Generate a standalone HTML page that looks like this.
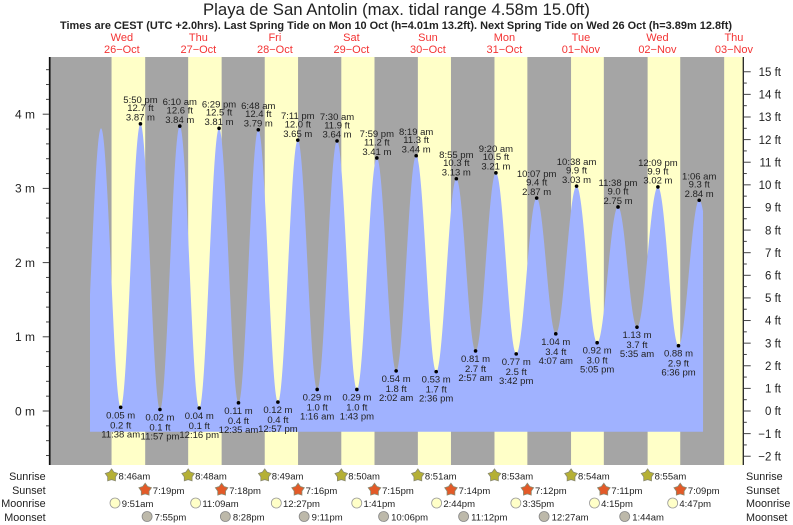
<!DOCTYPE html>
<html lang="en">
<head>
<meta charset="utf-8">
<title>Playa de San Antolin tide chart</title>
<style>
html,body{margin:0;padding:0;background:#fff;width:793px;height:525px;overflow:hidden}
svg{display:block;font-family:"Liberation Sans",Arial,sans-serif;filter:blur(0.3px)}
</style>
</head>
<body>
<svg id="chart" width="793" height="525" viewBox="0 0 793 525" xmlns="http://www.w3.org/2000/svg">
<text x="396.5" y="15" text-anchor="middle" font-size="17" fill="#222" textLength="387" lengthAdjust="spacingAndGlyphs">Playa de San Antolin (max. tidal range 4.58m 15.0ft)</text>
<text x="396" y="29" text-anchor="middle" font-size="10.8" font-weight="bold" fill="#222" textLength="672" lengthAdjust="spacingAndGlyphs">Times are CEST (UTC +2.0hrs). Last Spring Tide on Mon 10 Oct (h=4.01m 13.2ft). Next Spring Tide on Wed 26 Oct (h=3.89m 12.8ft)</text>
<g id="bands"></g>
<g id="fill"></g>
<g id="axes"></g>
<g id="days"></g>
<g id="points"></g>
<g id="astro"></g>
</svg>
<script>
// Day headers
const dayNames = ["Wed","Thu","Fri","Sat","Sun","Mon","Tue","Wed","Thu"];
const dayDates = ["26-Oct","27-Oct","28-Oct","29-Oct","30-Oct","31-Oct","01-Nov","02-Nov","03-Nov"];

// Tide extremes: day index from 26-Oct, clock time, height in metres
const tideDays = [-1,0,0,0,0,1,1,1,2,2,2,2,3,3,3,3,4,4,4,4,5,5,5,5,6,6,6,6,7,7,7,8,8];
const tideClocks = ["11:18 pm","5:28 am","11:38 am","5:50 pm","11:57 pm","6:10 am","12:16 pm","6:29 pm","12:35 am","6:48 am","12:57 pm","7:11 pm","1:16 am","7:30 am","1:43 pm","7:59 pm","2:02 am","8:19 am","2:36 pm","8:55 pm","2:57 am","9:20 am","3:42 pm","10:07 pm","4:07 am","10:38 am","5:05 pm","11:38 pm","5:35 am","12:09 pm","6:36 pm","1:06 am","7:30 am"];
const tideMeters = [0.05,3.81,0.05,3.87,0.02,3.84,0.04,3.81,0.11,3.79,0.12,3.65,0.29,3.64,0.29,3.41,0.54,3.44,0.53,3.13,0.81,3.21,0.77,2.87,1.04,3.03,0.92,2.75,1.13,3.02,0.88,2.84,1.10];
const unprintedFirst = 2;       // lead-in low and first peak have no printed label
const unprintedLast = 1;        // trailing low has no printed label

// Sun and moon
const sunriseDays = [0,1,2,3,4,5,6,7,8];
const sunriseClocks = ["8:46am","8:48am","8:49am","8:50am","8:51am","8:53am","8:54am","8:55am","8:56am"];
const sunsetDays = [0,1,2,3,4,5,6,7];
const sunsetClocks = ["7:19pm","7:18pm","7:16pm","7:15pm","7:14pm","7:12pm","7:11pm","7:09pm"];
const moonriseDays = [0,1,2,3,4,5,6,7];
const moonriseClocks = ["9:51am","11:09am","12:27pm","1:41pm","2:44pm","3:35pm","4:15pm","4:47pm"];
const moonsetDays = [0,1,2,3,4,6,7];
const moonsetClocks = ["7:55pm","8:28pm","9:11pm","10:06pm","11:12pm","12:27am","1:44am"];

// Axis ticks
const meterTicks = [0,1,2,3,4];
const meterMinorTicks = [-0.6,-0.4,-0.2,0.2,0.4,0.6,0.8,1.2,1.4,1.6,1.8,2.2,2.4,2.6,2.8,3.2,3.4,3.6,3.8,4.2,4.4,4.6];
const feetTicks = [-2,-1,0,1,2,3,4,5,6,7,8,9,10,11,12,13,14,15];
const feetMinorTicks = [-1.5,-0.5,0.5,1.5,2.5,3.5,4.5,5.5,6.5,7.5,8.5,9.5,10.5,11.5,12.5,13.5,14.5];

// Axis functions
const x = h => 83.6 + 3.188 * h;
const yM = m => 411 - 74.2 * m;
const yF = f => yM(f / 3.2808);
const plotL = 50, plotR = 743, plotT = 57, plotB = 465;
const fillStartHour = 2.0, fillEndHour = 194.3, fillBaseM = -0.28;

const NS = "http://www.w3.org/2000/svg";
function mk(tag, parent, attrs, txt) {
  const e = document.createElementNS(NS, tag);
  for (const k in attrs) e.setAttribute(k, attrs[k]);
  if (txt !== undefined) e.textContent = txt;
  document.getElementById(parent).appendChild(e);
  return e;
}
function clockHours(c) {
  const m = c.match(/(\d+):(\d+)\s*(am|pm)/);
  let h = (+m[1]) % 12;
  if (m[3] === "pm") h += 12;
  return h + (+m[2]) / 60;
}
const at = (d, c) => d * 24 + clockHours(c);

// Bands
const nightRect = mk("rect", "bands", {x: plotL, y: plotT, width: plotR - plotL, height: plotB - plotT, fill: "#a5a5a5"});


sunriseDays.forEach((d, i) => {
  const a = x(at(d, sunriseClocks[i]));
  const b = i < sunsetDays.length ? x(at(sunsetDays[i], sunsetClocks[i])) : plotR;
  const r = mk("rect", "bands", {x: a, y: plotT, width: b - a, height: plotB - plotT, fill: "#ffffc8"});
  
  
});

// Tide series assembled from the arrays
const series = tideDays.map((d, i) => ({h: at(d, tideClocks[i]), m: tideMeters[i], clock: tideClocks[i]}));

function level(h) {
  for (let i = 0; i < series.length - 1; i++) {
    const a = series[i], b = series[i + 1];
    if (h >= a.h && h <= b.h) {
      const t = (h - a.h) / (b.h - a.h);
      return a.m + (b.m - a.m) * (1 - Math.cos(Math.PI * t)) / 2;
    }
  }
  return fillBaseM;
}
let pts = [[x(fillStartHour), yM(fillBaseM)]];
for (let h = fillStartHour; h <= fillEndHour; h += 0.1) pts.push([x(h), yM(level(h))]);
pts.push([x(fillEndHour), yM(level(fillEndHour))]);
pts.push([x(fillEndHour), yM(fillBaseM)]);
const area = mk("polygon", "fill", {points: pts.map(p => p[0].toFixed(2) + "," + p[1].toFixed(2)).join(" "), fill: "#a0b2ff"});



// Axes
const la = mk("line", "axes", {x1: 49.7, x2: 49.7, y1: plotT, y2: plotB, stroke: "#111", "stroke-width": 1.7});


const ra = mk("line", "axes", {x1: 743.3, x2: 743.3, y1: plotT, y2: plotB, stroke: "#222", "stroke-width": 1.3});


meterMinorTicks.forEach(v => {
  mk("line", "axes", {x1: 46, x2: 49, y1: yM(v), y2: yM(v), stroke: "#444", "stroke-width": 1});
});
meterTicks.forEach(v => {
  mk("line", "axes", {x1: 42.7, x2: 49, y1: yM(v), y2: yM(v), stroke: "#444", "stroke-width": 1});
  const t = mk("text", "axes", {x: 35, y: yM(v) + 4.3, "text-anchor": "end", "font-size": 12, fill: "#222"}, v + " m");
  
  
});
feetMinorTicks.forEach(v => {
  mk("line", "axes", {x1: 744, x2: 746.8, y1: yF(v), y2: yF(v), stroke: "#444", "stroke-width": 1});
});
feetTicks.forEach(v => {
  mk("line", "axes", {x1: 744, x2: 750.7, y1: yF(v), y2: yF(v), stroke: "#444", "stroke-width": 1});
  const label = (v < 0 ? "\u2212" + (-v) : v) + " ft";
  const t = mk("text", "axes", {x: 781, y: yF(v) + 4.2, "text-anchor": "end", "font-size": 11.5, fill: "#222"}, label);
  
  
});

// Day headers
dayNames.forEach((n, i) => {
  const cx = x(i * 24 + 12);
  const a = mk("text", "days", {x: cx, y: 41, "text-anchor": "middle", "font-size": 11, fill: "#f33333"}, n);
  
  
  const b = mk("text", "days", {x: cx, y: 53, "text-anchor": "middle", "font-size": 11, fill: "#f33333"}, dayDates[i].replace("-", "\u2212"));
  
  
});

// Extreme points and labels
series.forEach((p, i) => {
  if (i < unprintedFirst || i >= series.length - unprintedLast) return;
  const px = x(p.h), py = yM(p.m);
  const prev = series[i - 1];
  const isHigh = p.m > prev.m;
  const dot = mk("circle", "points", {cx: px, cy: py, r: 1.8, fill: "#000"});
  
  
  const off = isHigh ? [-3.2, -12.6, -21] : [11, 21, 30];
  const lines = [p.m.toFixed(2) + " m", (p.m * 3.2808).toFixed(1) + " ft", p.clock];
  lines.forEach((s, k) => {
    const t = mk("text", "points", {x: px, y: py + off[k], "text-anchor": "middle", "font-size": 9.5, fill: "#222"}, s);
    
    
  });
});

// Sun and moon rows
function star(cx, cy, fill) {
  const out = 6.6, inn = 4.1, a = [];
  for (let i = 0; i < 10; i++) {
    const r = i % 2 ? inn : out, t = -Math.PI / 2 + i * Math.PI / 5;
    a.push((cx + r * Math.cos(t)).toFixed(2) + "," + (cy + r * Math.sin(t)).toFixed(2));
  }
  return mk("polygon", "astro", {points: a.join(" "), fill: fill, stroke: "#8a8a70", "stroke-width": 0.8});
}
function timeLabel(tx, cy, s) {
  const t = mk("text", "astro", {x: tx, y: cy + 3.4, "font-size": 9.5, fill: "#222"}, s);
  
  
}
sunriseDays.slice(0, 8).forEach((d, i) => {
  const cx = x(at(d, sunriseClocks[i]));
  const s = star(cx, 475.5, "#b5b035");
  
  
  timeLabel(cx + 7, 476.3, sunriseClocks[i]);
});
sunsetDays.forEach((d, i) => {
  const cx = x(at(d, sunsetClocks[i]));
  const s = star(cx, 489.8, "#e35a28");
  
  
  timeLabel(cx + 7.6, 490.4, sunsetClocks[i]);
});
moonriseDays.forEach((d, i) => {
  const cx = x(at(d, moonriseClocks[i]));
  const c = mk("circle", "astro", {cx: cx, cy: 503, r: 5, fill: "#ffffc8", stroke: "#999", "stroke-width": 0.8});
  
  
  timeLabel(cx + 6.7, 503.5, moonriseClocks[i]);
});
moonsetDays.forEach((d, i) => {
  const cx = x(at(d, moonsetClocks[i]));
  const c = mk("circle", "astro", {cx: cx, cy: 516.5, r: 5, fill: "#bdb9aa", stroke: "#888", "stroke-width": 0.8});
  
  
  timeLabel(cx + 7.5, 517, moonsetClocks[i]);
});
const rowNames = ["Sunrise","Sunset","Moonrise","Moonset"];
const rowY = [480, 494, 507, 521];
rowNames.forEach((n, i) => {
  const a = mk("text", "astro", {x: 45.7, y: rowY[i], "text-anchor": "end", "font-size": 10.8, fill: "#222"}, n);
  
  
  const b = mk("text", "astro", {x: 746, y: rowY[i], "font-size": 10.8, fill: "#222"}, n);
  
  
});
</script>
</body>
</html>
